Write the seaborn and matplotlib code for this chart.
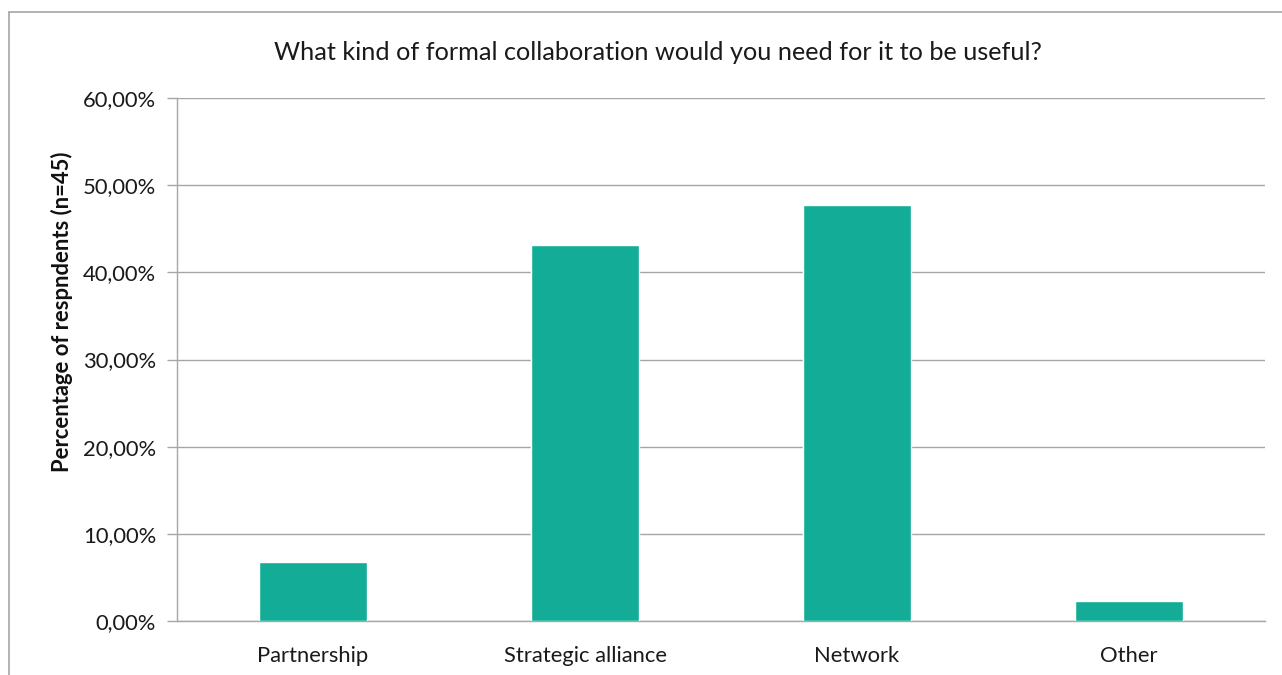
import matplotlib
matplotlib.use("Agg")
import matplotlib.pyplot as plt
import seaborn as sns
import pandas as pd
from matplotlib.lines import Line2D
from matplotlib.ticker import FuncFormatter, MultipleLocator

categories = ["Partnership", "Strategic alliance", "Network", "Other"]
shares = [6.82, 43.18, 47.73, 2.27]  # percent of respondents

title = "What kind of formal collaboration would you need for it to be useful?"
ylabel = "Percentage of respndents (n=45)"

sns.set_theme(style="white")
plt.rcParams["font.family"] = ["Lato", "DejaVu Sans"]

W, H, DPI = 1282, 675, 100
fig = plt.figure(figsize=(W / DPI, H / DPI), dpi=DPI)
ax = fig.add_axes([177 / W, 1 - 621 / H, (1265 - 177) / W, (621 - 98) / H])

df = pd.DataFrame({"category": categories, "share": shares})
sns.barplot(data=df, x="category", y="share", color="#13AD97", saturation=1,
            width=0.4, ax=ax, zorder=3)

grid_c = "#A6A6A6"
ax.set_xlim(-0.5, len(categories) - 0.5)
ax.set_ylim(0, 60)
ax.yaxis.set_major_locator(MultipleLocator(10))
ax.yaxis.set_major_formatter(FuncFormatter(lambda v, _: f"{v:.2f}%".replace(".", ",")))
ax.grid(axis="y", color=grid_c, linewidth=1.0, zorder=0)
ax.set_axisbelow(True)

for s in ["top", "right"]:
    ax.spines[s].set_visible(False)
for s in ["left", "bottom"]:
    ax.spines[s].set_color(grid_c)
    ax.spines[s].set_linewidth(1.0)

# category separators as tick marks on the x axis
ax.set_xticks(range(len(categories)))
ax.set_xticklabels(categories)
ax.set_xticks([i + 0.5 for i in range(-1, len(categories))], minor=True)
ax.tick_params(axis="x", which="major", length=0, pad=18, labelsize=15.8, labelcolor="#1a1a1a")
ax.tick_params(axis="x", which="minor", length=7, width=1, color=grid_c, direction="out")
ax.tick_params(axis="y", length=7, width=1, color=grid_c, direction="out", pad=8,
               labelsize=15.8, labelcolor="#1a1a1a", left=True)

ax.set_xlabel("")
ax.set_ylabel(ylabel, fontsize=15.8, fontweight="bold", color="#111111")
ax.yaxis.set_label_coords(-0.0956, 0.591)
fig.text(658 / W, 1 - 52 / H, title, ha="center", va="center",
         fontsize=18.2, color="#1a1a1a")

# chart frame (top and left edges)
fig.add_artist(Line2D([9 / W, 1.0], [1 - 12 / H, 1 - 12 / H], color=grid_c, lw=1.2,
                      transform=fig.transFigure))
fig.add_artist(Line2D([9 / W, 9 / W], [0.0, 1 - 12 / H], color=grid_c, lw=1.2,
                      transform=fig.transFigure))

fig.savefig("out.png", dpi=DPI, facecolor="white")
